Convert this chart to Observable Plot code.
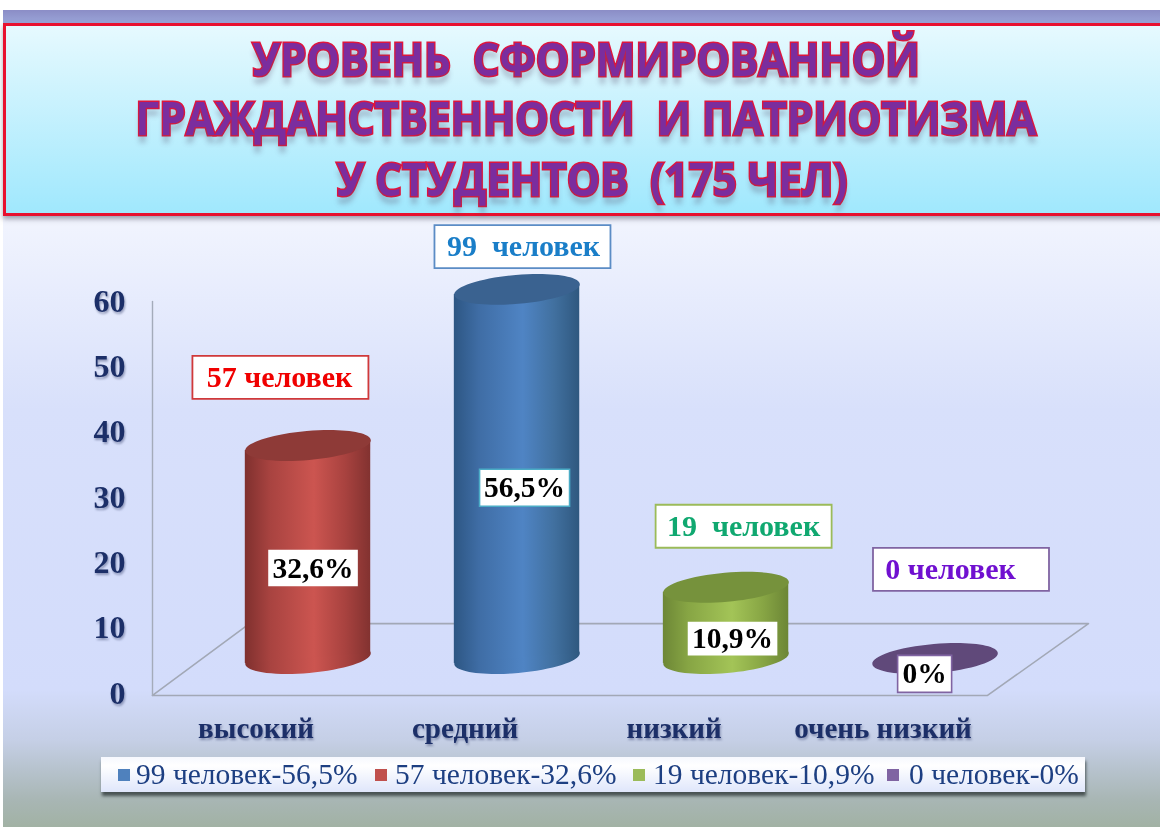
<!DOCTYPE html>
<html lang="ru">
<head>
<meta charset="utf-8">
<script src="https://cdn.jsdelivr.net/npm/d3@7"></script>
<script src="https://cdn.jsdelivr.net/npm/@observablehq/plot@0.6"></script>
<style>
  html,body{margin:0;padding:0;background:#fff;}
  #page{position:relative;width:1160px;height:827px;overflow:hidden;filter:blur(.45px);}
  #bg{position:absolute;left:3px;top:10px;right:0;bottom:0;
      background:linear-gradient(to bottom,#8b8dc6 0,#9ba6da 14px,#f1f4fe 210px,#d8e0fb 400px,#d3dcfb 680px,#c5cfe6 730px,#a8b6b4 790px,#9fb09e 827px);}
  #panel{position:absolute;left:3px;top:23px;right:-6px;height:187px;border:3px solid #e8102e;
      background:linear-gradient(to bottom,#e6f9fe,#a0e8fd);box-shadow:0 3px 5px rgba(90,90,110,.55);}
  .tl{position:absolute;left:0;width:1172px;text-align:center;white-space:pre;
      font-family:"Open Sans",sans-serif;font-weight:700;font-size:46px;line-height:48px;
      transform:scaleX(.915);transform-origin:586px 0;
      color:#7b2d9e;-webkit-text-stroke:3px #e0153c;paint-order:stroke fill;
      text-shadow:0 8px 6px rgba(90,80,110,.3);}
  #chart{position:absolute;left:0;top:0;}
  .cat text,g[aria-label="y-axis tick label"] text{filter:drop-shadow(1px 2px 1px rgba(90,100,140,.6));}
  #legend{position:absolute;left:101px;top:757px;width:984px;height:35px;
      background:linear-gradient(to bottom,#f6f8fe,#ffffff 25%,#dfe6fb);box-shadow:1px 4px 3px rgba(40,50,50,.75);}
  .sw{position:absolute;top:12px;width:12px;height:12px;}
  .lt{position:absolute;top:1px;font-family:"Liberation Serif",serif;font-size:29.5px;line-height:32px;color:#1d3f82;white-space:pre;}
</style>
</head>
<body>
<div id="page">
  <div id="bg"></div>
  <div id="panel"></div>
  <div id="titles"></div>
  <div id="chart"></div>
  <div id="legend"></div>
</div>
<svg width="0" height="0" style="position:absolute">
  <defs>
    <linearGradient id="gRed"><stop offset="0" stop-color="#7f302e"/><stop offset=".2" stop-color="#a84340"/><stop offset=".55" stop-color="#cc5550"/><stop offset=".8" stop-color="#a8423f"/><stop offset="1" stop-color="#823230"/></linearGradient>
    <linearGradient id="gBlue"><stop offset="0" stop-color="#2d5683"/><stop offset=".2" stop-color="#3f6da5"/><stop offset=".55" stop-color="#4f84c4"/><stop offset=".8" stop-color="#41709f"/><stop offset="1" stop-color="#2f587f"/></linearGradient>
    <linearGradient id="gGreen"><stop offset="0" stop-color="#6d8736"/><stop offset=".2" stop-color="#87a544"/><stop offset=".55" stop-color="#a3c457"/><stop offset=".8" stop-color="#87a544"/><stop offset="1" stop-color="#6c8636"/></linearGradient>
    <linearGradient id="gPurple"><stop offset="0" stop-color="#60497a"/><stop offset="1" stop-color="#60497a"/></linearGradient>
  </defs>
</svg>
<script>
// ---- data ----
const titleLines = ["УРОВЕНЬ  СФОРМИРОВАННОЙ", "ГРАЖДАНСТВЕННОСТИ  И ПАТРИОТИЗМА", "У СТУДЕНТОВ  (175 ЧЕЛ)"];
const categories = ["высокий", "средний", "низкий", "очень низкий"];
const percents = [32.6, 56.5, 10.9, 0];
const people = [57, 99, 19, 0];
const peopleText = ["57 человек", "99\u00a0\u00a0человек", "19\u00a0\u00a0человек", "0 человек"];
const yTicks = [0, 10, 20, 30, 40, 50, 60];
const legendLabels = ["99 человек-56,5%", "57 человек-32,6%", "19 человек-10,9%", "0 человек-0%"];
// annotation anchors, in chart units
const calloutX = [0.368, 1.526, 2.584, 3.624];
const calloutY = [48.4, 68.4, 25.6, 19.0];
const calloutTextX = [0.364, 1.531, 2.584, 3.574];
const percentX = [0.524, 1.536, 2.531, 3.45];
const percentY = [19.2, 31.5, 8.4, 3.0];
// floor and wall of the 3-D box, in chart units
const floorX = [-0.244, 3.751, 4.234, 0.22, -0.244];
const floorY = [-0.3, -0.3, 10.7, 10.7, -0.3];
const wallX = [-0.244, -0.244];
const wallY = [-0.3, 60];

// ---- styles ----
const bodyFill = ["url(#gRed)", "url(#gBlue)", "url(#gGreen)", "url(#gPurple)"];
const capFill = ["#8e3a37", "#3a6290", "#76923c", "#60497a"];
const calloutStroke = ["#d0393a", "#5b8cc5", "#9bbb59", "#8064a2"];
const calloutText = ["#f00000", "#1a7ec8", "#10a870", "#7010d0"];
const percentStroke = ["#ffffff", "#4bacc6", "#ffffff", "#8064a2"];
const percentBoxW = [88, 90, 88, 54];
const percentBoxH = [35, 37, 32, 37];
const legendColors = ["#4f81bd", "#c0504d", "#9bbb59", "#8064a2"];
const serif = "Liberation Serif";

// tilted ellipse: the cylinder's top and bottom faces
function ellipse(rx, ry, deg) {
  const t = deg * Math.PI / 180, c = Math.cos(t), s = Math.sin(t), k = 0.5523;
  const P = (a, b) => [a * rx * c - b * ry * s, a * rx * s + b * ry * c];
  return {draw(ctx) {
    ctx.moveTo(...P(1, 0));
    ctx.bezierCurveTo(...P(1, k), ...P(k, 1), ...P(0, 1));
    ctx.bezierCurveTo(...P(-k, 1), ...P(-1, k), ...P(-1, 0));
    ctx.bezierCurveTo(...P(-1, -k), ...P(-k, -1), ...P(0, -1));
    ctx.bezierCurveTo(...P(k, -1), ...P(1, -k), ...P(1, 0));
    ctx.closePath();
  }};
}
const box = (w, h) => ({draw(ctx) { ctx.rect(-w / 2, -h / 2, w, h); }});

const rows = categories.map((c, i) => ({c, i, v: percents[i], cx: i + 0.5}));
const face = ellipse(63, 14.5, -5);
const baseDy = -35, halfWidth = 0.3, tilt = 0.77; // tilt: rise of the face across the cylinder, in chart units

const marks = [
  Plot.line(floorX.map((x, i) => ({x, y: floorY[i]})), {x: "x", y: "y", stroke: "#a2a8b6", strokeWidth: 1.6}),
  Plot.line(wallX.map((x, i) => ({x, y: wallY[i]})), {x: "x", y: "y", stroke: "#a4abba", strokeWidth: 1.4}),
  Plot.axisY({ticks: yTicks, tickFormat: d => String(d), anchor: "left", tickSize: 0, tickPadding: 27, label: null,
    fontFamily: serif, fontWeight: "bold", fontSize: 32, color: "#1c2f68"}),
  Plot.text(rows, {x: "cx", y: () => 0, text: "c", dx: -52, dy: 35, fontFamily: serif, fontWeight: "bold",
    fontSize: 29, fill: "#1c2f68", className: "cat"})
];
rows.forEach(r => {
  const d = [r];
  if (r.v > 0) {
    marks.push(Plot.dot(d, {x: "cx", y: () => 0, dy: baseDy, symbol: face, fill: bodyFill[r.i]}));
    const side = [
      {x: r.cx - halfWidth, lo: -tilt, hi: r.v - tilt},
      {x: r.cx + halfWidth, lo: tilt, hi: r.v + tilt}
    ];
    marks.push(Plot.areaY(side, {x: "x", y1: "lo", y2: "hi", dy: baseDy, fill: bodyFill[r.i]}));
  }
  marks.push(Plot.dot(d, {x: "cx", y: "v", dy: baseDy, symbol: face, fill: capFill[r.i]}));
});
rows.forEach(r => {
  const i = r.i, d = [r];
  marks.push(Plot.dot(d, {x: () => calloutX[i], y: () => calloutY[i], symbol: box(176, 43), fill: "#ffffff", stroke: calloutStroke[i], strokeWidth: 1.8}));
  marks.push(Plot.text(d, {x: () => calloutTextX[i], y: () => calloutY[i], text: () => peopleText[i], fontFamily: serif, fontWeight: "bold", fontSize: 30, fill: calloutText[i]}));
  marks.push(Plot.dot(d, {x: () => percentX[i], y: () => percentY[i], symbol: box(percentBoxW[i], percentBoxH[i]), fill: "#ffffff", stroke: percentStroke[i], strokeWidth: 1.6}));
  marks.push(Plot.text(d, {x: () => percentX[i], y: () => percentY[i], text: q => String(q.v).replace(".", ",") + "%", fontFamily: serif, fontWeight: "bold", fontSize: 29.5, fill: "#000000"}));
});

const chart = Plot.plot({
  width: 1160, height: 827,
  marginLeft: 152, marginRight: 72, marginTop: 301, marginBottom: 134,
  x: {domain: [-0.244, 4.234], axis: null},
  y: {domain: [0, 60], axis: null},
  style: {background: "transparent", overflow: "visible"},
  marks
});
document.getElementById("chart").appendChild(chart);

// ---- title and legend ----
const titleTops = [34, 93, 154], titleShift = [0, 0, 6];
const titles = document.getElementById("titles");
titleLines.forEach((t, i) => {
  const el = document.createElement("div");
  el.className = "tl"; el.textContent = t;
  el.style.top = titleTops[i] + "px";
  el.style.marginLeft = titleShift[i] + "px";
  titles.appendChild(el);
});
const swLeft = [17, 274, 532, 786], ltLeft = [35, 294, 552, 808];
const legend = document.getElementById("legend");
legendLabels.forEach((t, i) => {
  const s = document.createElement("div");
  s.className = "sw"; s.style.left = swLeft[i] + "px"; s.style.background = legendColors[i];
  const l = document.createElement("div");
  l.className = "lt"; l.style.left = ltLeft[i] + "px"; l.textContent = t;
  legend.append(s, l);
});
</script>
</body>
</html>
